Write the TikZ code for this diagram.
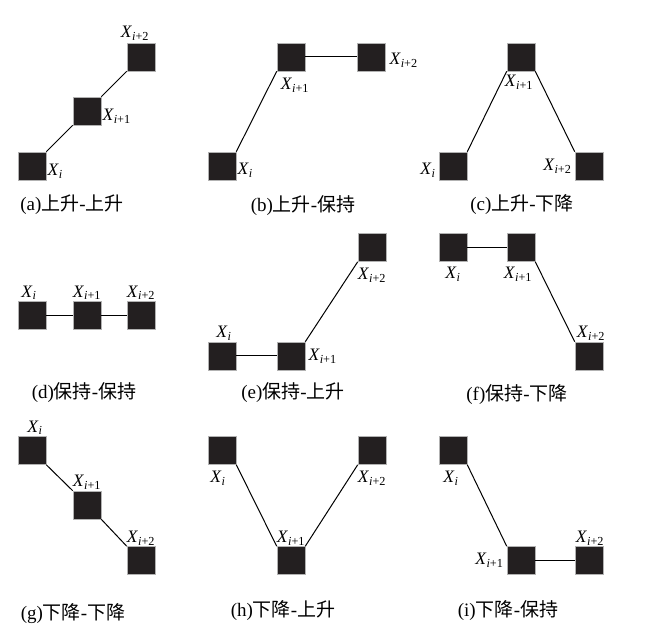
\documentclass[tikz,border=0pt]{standalone}
\usepackage{fontspec}
\setmainfont{Liberation Serif}
\newfontfamily\cjk{Noto Sans CJK SC}
\usepackage{tikz}

\newcommand{\labi}{\textit{X}\textsubscript{\textit{i}}}
\newcommand{\labii}{\textit{X}\textsubscript{\textit{i}+1}}
\newcommand{\labiii}{\textit{X}\textsubscript{\textit{i}+2}}

\begin{document}
\begin{tikzpicture}[x=1pt,y=-1pt,
        blk/.style={draw=gray!60, line width=0.6pt, fill={rgb,255:red,35;green,31;blue,32},
                    minimum size=28pt, inner sep=0pt},
        every label/.style={inner sep=1pt, font=\fontsize{17.5}{18}\selectfont},
        captxt/.style={font=\fontsize{19}{21}\selectfont},
        lnk/.style={line width=1pt}]
        \useasboundingbox (0,0) rectangle (667,636);

        % (a)
        \node[blk, label={[yshift=-5pt]east:\labi}] (a0) at (32,166) {};
        \node[blk, label={[yshift=-5pt]east:\labii}] (a1) at (87,111) {};
        \node[blk, label={[xshift=-6pt,yshift=1pt]north:\labiii}] (a2) at (141,57) {};
        \draw[lnk] (a0.north east) -- (a1.south west);
        \draw[lnk] (a1.north east) -- (a2.south west);
        \node[captxt] (ca) at (72,205) {(a){\cjk 上升}-{\cjk 上升}};

        % (b)
        \node[blk, label={[yshift=-4pt]east:\labi}] (b0) at (222,166) {};
        \node[blk, label={[xshift=4pt,yshift=-6pt]south:\labii}] (b1) at (291,57) {};
        \node[blk, label={[xshift=3pt,yshift=-3pt]east:\labiii}] (b2) at (371,57) {};
        \draw[lnk] (b0.north east) -- (b1.south west);
        \draw[lnk] (b1.east) -- (b2.west);
        \node[captxt] (cb) at (303,206) {(b){\cjk 上升}-{\cjk 保持}};

        % (c)
        \node[blk, label={[xshift=-2pt,yshift=-4pt]west:\labi}] (c0) at (453,166) {};
        \node[blk, label={[xshift=-2pt,yshift=-3pt]south:\labii}] (c1) at (521,57) {};
        \node[blk, label={[xshift=-2pt]west:\labiii}] (c2) at (589,166) {};
        \draw[lnk] (c0.north east) -- (c1.south west);
        \draw[lnk] (c1.south east) -- (c2.north west);
        \node[captxt] (cc) at (522,205) {(c){\cjk 上升}-{\cjk 下降}};

        % (d)
        \node[blk, label={[xshift=-3pt]north:\labi}] (d0) at (32,315.5) {};
        \node[blk, label={north:\labii}] (d1) at (87,315.5) {};
        \node[blk, label={north:\labiii}] (d2) at (141,315.5) {};
        \draw[lnk] (d0.east) -- (d1.west);
        \draw[lnk] (d1.east) -- (d2.west);
        \node[captxt] (cd) at (84,393) {(d){\cjk 保持}-{\cjk 保持}};

        % (e)
        \node[blk, label={[xshift=2pt]north:\labi}] (e0) at (222,356) {};
        \node[blk, label={[xshift=2pt]east:\labii}] (e1) at (291,356) {};
        \node[blk, label={[yshift=-5pt]south:\labiii}] (e2) at (372,247.5) {};
        \draw[lnk] (e0.east) -- (e1.west);
        \draw[lnk] (e1.north east) -- (e2.south west);
        \node[captxt] (ce) at (293,393) {(e){\cjk 保持}-{\cjk 上升}};

        % (f)
        \node[blk, label={[yshift=-4pt]south:\labi}] (f0) at (453,247.5) {};
        \node[blk, label={[xshift=-3pt,yshift=-4pt]south:\labii}] (f1) at (521,247.5) {};
        \node[blk, label={[xshift=2pt]north:\labiii}] (f2) at (589,356) {};
        \draw[lnk] (f0.east) -- (f1.west);
        \draw[lnk] (f1.south east) -- (f2.north west);
        \node[captxt] (cf) at (517,395) {(f){\cjk 保持}-{\cjk 下降}};

        % (g)
        \node[blk, label={[xshift=3pt]north:\labi}] (g0) at (32,450.5) {};
        \node[blk, label={north:\labii}] (g1) at (87,505) {};
        \node[blk, label={north:\labiii}] (g2) at (141,560.5) {};
        \draw[lnk] (g0.south east) -- (g1.north west);
        \draw[lnk] (g1.south east) -- (g2.north west);
        \node[captxt] (cg) at (73,614) {(g){\cjk 下降}-{\cjk 下降}};

        % (h)
        \node[blk, label={[xshift=-4pt,yshift=-5pt]south:\labi}] (h0) at (222,450.5) {};
        \node[blk, label={north:\labii}] (h1) at (291,560.5) {};
        \node[blk, label={[yshift=-5pt]south:\labiii}] (h2) at (372,450.5) {};
        \draw[lnk] (h0.south east) -- (h1.north west);
        \draw[lnk] (h1.north east) -- (h2.south west);
        \node[captxt] (ch) at (283,611) {(h){\cjk 下降}-{\cjk 上升}};

        % (i)
        \node[blk, label={[xshift=-2pt,yshift=-5pt]south:\labi}] (i0) at (453,450.5) {};
        \node[blk, label={[xshift=-2pt]west:\labii}] (i1) at (521,560.5) {};
        \node[blk, label={[xshift=1pt]north:\labiii}] (i2) at (589,560.5) {};
        \draw[lnk] (i0.south east) -- (i1.north west);
        \draw[lnk] (i1.east) -- (i2.west);
        \node[captxt] (ci) at (508,611) {(i){\cjk 下降}-{\cjk 保持}};
    \end{tikzpicture}
\end{document}
